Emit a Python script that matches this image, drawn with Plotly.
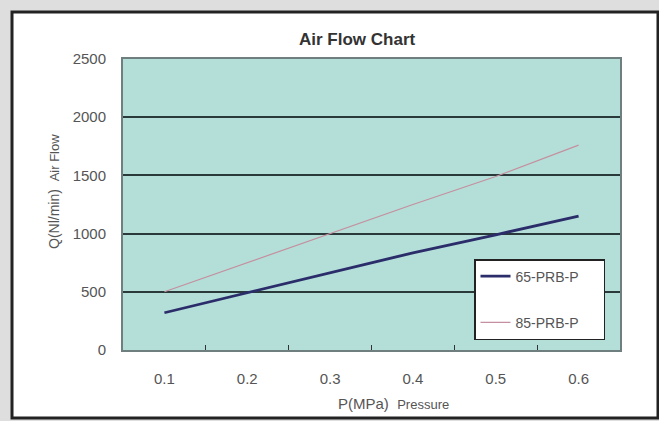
import plotly.graph_objects as go

pressure = ["0.1", "0.2", "0.3", "0.4", "0.5", "0.6"]
flow_65 = [320, 490, 665, 835, 990, 1150]
flow_85 = [500, 750, 1000, 1250, 1490, 1760]
series_names = ["65-PRB-P", "85-PRB-P"]
y_ticks = [0, 500, 1000, 1500, 2000, 2500]

W, H = 659, 421
L, R, T, B = 123, 39, 59, 71
pw, ph = W - L - R, H - T - B

def px_x(p):
    return (p - L) / pw

def px_y(p):
    return (H - B - p) / ph

pad = "\u00a0" * 5
teal = "#b4dfd9"

fig = go.Figure()
fig.add_trace(go.Scatter(
    x=pressure, y=flow_65, mode="lines", name=series_names[0] + pad,
    line=dict(color="#2b2d6b", width=2.8), legendgroup="a",
))
fig.add_trace(go.Scatter(
    x=pressure, y=flow_85, mode="lines", name=series_names[1] + pad,
    line=dict(color="#c48f9e", width=1.2), legendgroup="b",
))

fig.update_layout(
    width=W, height=H,
    margin=dict(l=L, r=R, t=T, b=B, autoexpand=False),
    paper_bgcolor="#dedede",
    plot_bgcolor=teal,
    font=dict(family="Liberation Sans, Arial, sans-serif", color="#444"),
    showlegend=True,
    legend=dict(
        x=px_x(474), y=px_y(259), xanchor="left", yanchor="top",
        bgcolor="white", bordercolor="#222", borderwidth=1.5,
        font=dict(size=14, color="#555"),
        tracegroupgap=25, traceorder="grouped",
        itemwidth=30,
    ),
    xaxis=dict(
        type="category", range=[-0.5, 5.5],
        showgrid=False, ticks="inside", tickson="boundaries", ticklen=5,
        tickcolor="#333", tickwidth=1.2,
        showline=True, linecolor="#6f7f7f", linewidth=2, mirror=True,
        tickfont=dict(size=15, color="#555"), ticklabelstandoff=14,
    ),
    yaxis=dict(
        range=[0, 2500], tickvals=y_ticks, showgrid=True, gridcolor="#2a3a3a",
        gridwidth=1.5, zeroline=False,
        showline=True, linecolor="#6f7f7f", linewidth=2, mirror=True,
        tickfont=dict(size=15, color="#555"), ticklabelstandoff=12,
    ),
    shapes=[
        dict(type="rect", xref="paper", yref="paper",
             x0=px_x(12), x1=px_x(658), y0=px_y(418), y1=px_y(12),
             fillcolor="white", line=dict(color="#222", width=3), layer="below"),
        dict(type="rect", xref="paper", yref="paper",
             x0=0, x1=1, y0=0, y1=1,
             fillcolor=teal, line=dict(width=0), layer="below"),
    ],
    annotations=[
        dict(text="<b>Air Flow Chart</b>", xref="paper", yref="paper",
             x=px_x(357), y=px_y(39), showarrow=False,
             xanchor="center", yanchor="middle",
             font=dict(size=17, color="#333")),
        dict(text="Q(Nl/min)  <span style='font-size:13px'>Air Flow</span>",
             xref="paper", yref="paper", x=px_x(54), y=px_y(192),
             textangle=-90, showarrow=False, xanchor="center", yanchor="middle",
             font=dict(size=14, color="#555")),
        dict(text="P(MPa)  <span style='font-size:13px'>Pressure</span>",
             xref="paper", yref="paper", x=px_x(393), y=px_y(403),
             showarrow=False, xanchor="center", yanchor="middle",
             font=dict(size=15, color="#555")),
    ],
)

fig.write_html(
    "out.html",
    config={"displayModeBar": False},
    post_script="document.body.style.margin='0';document.body.style.overflow='hidden';",
)
